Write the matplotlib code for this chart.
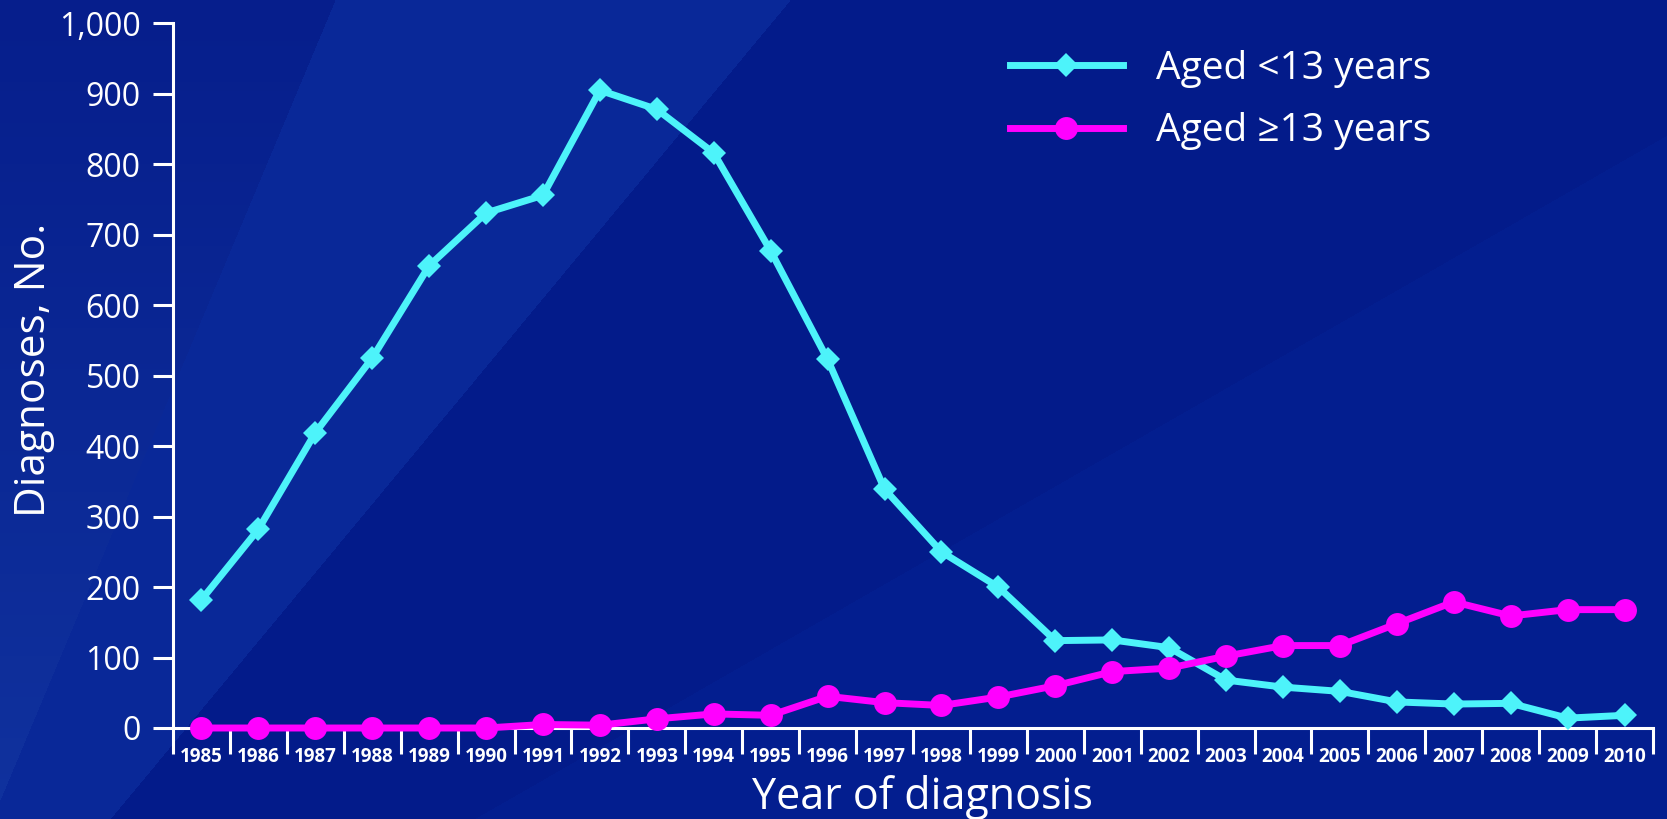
import numpy as np
import matplotlib.pyplot as plt
from matplotlib.lines import Line2D

plt.rcParams['font.family'] = ['Open Sans', 'DejaVu Sans']

# data
years = [str(y) for y in range(1985, 2011)]
aged_under13 = [182, 282, 419, 525, 656, 731, 756, 905, 878, 816, 677, 523, 339,
                250, 200, 124, 125, 114, 68, 58, 52, 37, 34, 35, 14, 18]
aged_13plus = [0, 0, 0, 0, 0, 0, 5, 4, 13, 20, 18, 45, 36, 32, 44, 60, 80, 85,
               102, 117, 117, 148, 179, 159, 168, 168]
yticks = [0, 100, 200, 300, 400, 500, 600, 700, 800, 900, 1000]

W, H = 1667, 819
fig = plt.figure(figsize=(W / 100, H / 100), dpi=100)

# background: dark blue with faint diagonal panels
yy, xx = np.mgrid[0:H, 0:W].astype(float)


def left_of(p1, p2):
    (x1, y1), (x2, y2) = p1, p2
    return (x2 - x1) * (yy - y1) - (y2 - y1) * (xx - x1) > 0


bg = np.zeros((H, W, 3))
bg[:] = np.array([3, 27, 138]) / 255
lower_right = ~left_of((1667, 135), (474, 819))
bg[lower_right] = np.array([3, 30, 143]) / 255
zone_a = left_of((790, 0), (110, 819))
bg[zone_a] = np.array([9, 40, 152]) / 255
zone_c = left_of((335, 0), (0, 800))
shade = (yy / H)[..., None]
dark = np.array([6, 30, 140]) / 255
light = np.array([16, 50, 158]) / 255
mix = dark + (light - dark) * shade
bg[zone_c] = mix[zone_c]

bax = fig.add_axes([0, 0, 1, 1], zorder=-10)
bax.imshow(bg, aspect='auto', extent=[0, W, H, 0])
bax.axis('off')

ax = fig.add_axes([173 / W, 1 - 728 / H, 1480 / W, (728 - 23.4) / H])
ax.patch.set_alpha(0)

x = np.arange(len(years))
ax.plot(x, aged_under13, color='#4df3fa', lw=5, marker='D', ms=12, mew=0,
        clip_on=False, zorder=3)
ax.plot(x, aged_13plus, color='#ff00ff', lw=5, marker='o', ms=16.5, mew=0,
        clip_on=False, zorder=4)

ax.set_xlim(-0.5, len(years) - 0.5)
ax.set_ylim(0, 1000)

for s in ['top', 'right']:
    ax.spines[s].set_visible(False)
for s in ['left', 'bottom']:
    ax.spines[s].set_color('white')
    ax.spines[s].set_linewidth(2.2)

ax.set_yticks(yticks)
ax.set_yticklabels([f'{v:,}' for v in yticks])
ax.tick_params(axis='y', colors='white', length=14.4, width=2.2, pad=9,
               labelsize=23)

ax.set_xticks(np.arange(len(years) + 1) - 0.5)
ax.set_xticklabels([])
ax.tick_params(axis='x', which='major', colors='white', length=19, width=2.2)
ax.set_xticks(x, minor=True)
ax.set_xticklabels(years, minor=True, fontweight='bold')
ax.tick_params(axis='x', which='minor', length=0, pad=14, labelsize=13.5,
               labelcolor='white')

fig.text(34 / W, 1 - 370 / H, 'Diagnoses, No.', rotation=90, color='white',
         fontsize=30.5, ha='center', va='center')
fig.text(922 / W, 1 - 798 / H, 'Year of diagnosis', color='white',
         fontsize=31, ha='center', va='center')

handles = [
    Line2D([], [], color='#4df3fa', lw=5, marker='D', ms=12, mew=0),
    Line2D([], [], color='#ff00ff', lw=5, marker='o', ms=16.5, mew=0),
]
leg = ax.legend(handles, ['Aged <13 years', 'Aged \u226513 years'],
                loc='upper left', bbox_to_anchor=(1010 / W, 1 - 50 / H),
                bbox_transform=fig.transFigure, frameon=False, fontsize=28,
                borderpad=0, borderaxespad=0, handlelength=2.9,
                handletextpad=0.85, labelspacing=0.63)
for t in leg.get_texts():
    t.set_color('white')

fig.savefig('out.png', dpi=100)
